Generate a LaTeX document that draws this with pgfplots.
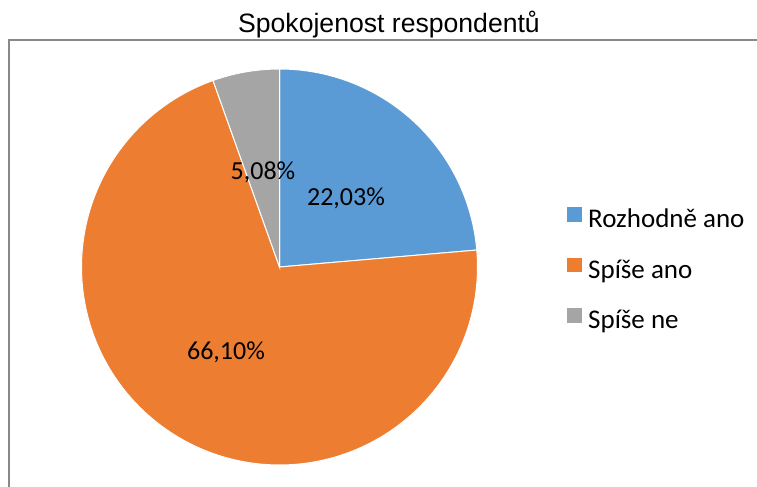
\documentclass[border=0pt]{standalone}
\usepackage{fontspec}
\setmainfont{Carlito}
\newfontfamily\titlefont{Liberation Sans}
\usepackage{pgfplots}
\usepackage{pgfplotstable}
\pgfplotsset{compat=1.18}
\definecolor{cblue}{HTML}{5B9BD5}
\definecolor{corange}{HTML}{ED7D31}
\definecolor{cgray}{HTML}{A5A5A5}
\definecolor{cframe}{HTML}{898989}

\pgfplotstableread{
label value
RozhodneAno 22.03
SpiseAno 66.10
SpiseNe 5.08
}\piedata
\pgfplotstablegetelem{0}{value}\of\piedata \let\va\pgfplotsretval
\pgfplotstablegetelem{1}{value}\of\piedata \let\vb\pgfplotsretval
\pgfplotstablegetelem{2}{value}\of\piedata \let\vc\pgfplotsretval
\pgfmathsetmacro\tot{\va+\vb+\vc}
\pgfmathsetmacro\aA{90-\va/\tot*360}
\pgfmathsetmacro\aB{\aA-\vb/\tot*360}

\begin{document}%
\begin{tikzpicture}
\begin{axis}[
  width=378.5bp, height=243.5bp, scale only axis,
  xmin=0, xmax=757, ymin=0, ymax=487,
  hide axis, clip=false,
  legend image code/.code={\path[#1,draw=none,fill] (0bp,-0.6bp) rectangle (7.4bp,6.8bp);},
  legend style={draw=none, fill=none, at={(axis cs:561,284)}, anchor=north west,
    font=\fontsize{13.5bp}{15bp}\selectfont,
    nodes={inner sep=0pt, text height=10bp, text depth=3bp, anchor=west},
    row sep=11.8bp, column sep=3bp},
]
\coordinate (bl) at (axis cs:0,0);
\coordinate (tr) at (axis cs:757,487);
\draw[cframe, line width=0.75bp] (axis cs:9,0) -- (axis cs:9,447) -- (axis cs:757,447);

\addplot[fill=cblue, draw=white, line width=0.5bp, domain=\aA:90, samples=90, variable=\t]
  ({279.5+198*cos(t)}, {220+198*sin(t)}) -- (axis cs:279.5,220) -- cycle;
\addlegendentry{Rozhodně ano}
\addplot[fill=corange, draw=white, line width=0.5bp, domain=\aB:\aA, samples=200, variable=\t]
  ({279.5+198*cos(t)}, {220+198*sin(t)}) -- (axis cs:279.5,220) -- cycle;
\addlegendentry{Spíše ano}
\addplot[fill=cgray, draw=white, line width=0.5bp, domain=-270:\aB, samples=30, variable=\t]
  ({279.5+198*cos(t)}, {220+198*sin(t)}) -- (axis cs:279.5,220) -- cycle;
\addlegendentry{Spíše ne}

\node[anchor=base, inner sep=0pt, font=\fontsize{13bp}{15bp}\selectfont] at (axis cs:346,281) {22,03\%};
\node[anchor=base, inner sep=0pt, font=\fontsize{13bp}{15bp}\selectfont] at (axis cs:263,307) {5,08\%};
\node[anchor=base, inner sep=0pt, font=\fontsize{13bp}{15bp}\selectfont] at (axis cs:226,127) {66,10\%};
\node[anchor=base, inner sep=0pt, font=\titlefont\fontsize{13.3bp}{15bp}\selectfont] at (axis cs:389,454) {Spokojenost respondentů};
\end{axis}
\pgfresetboundingbox
\path[use as bounding box] (bl) rectangle (tr);
\end{tikzpicture}%
\end{document}
